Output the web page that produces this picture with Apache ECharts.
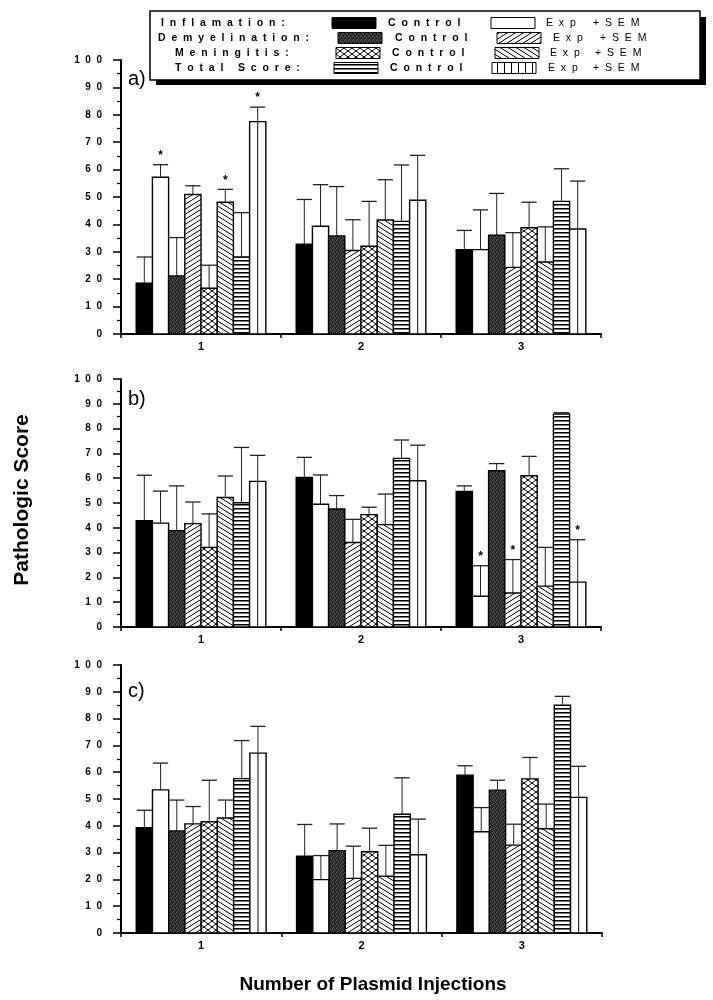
<!DOCTYPE html>
<html>
<head>
<meta charset="utf-8">
<script src="https://cdn.jsdelivr.net/npm/echarts@6/dist/echarts.min.js"></script>
<style>
  html, body { margin: 0; background: #fff; }
  #main { width: 713px; height: 1000px; }
</style>
</head>
<body>
<div id="main"></div>
<script>
// categories: number of plasmid injections
const injections = ['1', '2', '3'];
// bar order inside each group
const barNames = ['Inflamation Control', 'Inflamation Exp', 'Demyelination Control', 'Demyelination Exp',
  'Meningitis Control', 'Meningitis Exp', 'Total Score Control', 'Total Score Exp'];
const yTicks = [0, 10, 20, 30, 40, 50, 60, 70, 80, 90, 100];

// panel a) mean and SEM, one row per injection group
const meanA = [
  [18.5, 57.2, 21.2, 50.9, 16.7, 48.1, 28.1, 77.5],
  [32.8, 39.3, 35.8, 30.5, 32.0, 41.6, 41.1, 48.8],
  [30.8, 30.8, 36.1, 24.3, 38.8, 26.3, 48.4, 38.3]
];
const semA = [
  [9.6, 4.6, 14.0, 3.2, 8.4, 4.7, 16.2, 5.3],
  [16.3, 15.2, 18.0, 11.2, 16.4, 14.7, 20.6, 16.4],
  [7.0, 14.5, 15.2, 12.7, 9.3, 12.8, 11.9, 17.5]
];
const starsA = [[0, 1], [0, 5], [0, 7]];

// panel b)
const meanB = [
  [42.9, 41.9, 38.8, 41.7, 32.1, 52.2, 50.1, 58.7],
  [60.3, 49.5, 47.6, 34.1, 45.3, 41.3, 68.0, 59.0],
  [54.7, 12.4, 63.0, 13.7, 61.0, 16.5, 85.9, 18.1]
];
const semB = [
  [18.3, 12.9, 18.1, 8.7, 13.5, 8.7, 22.3, 10.5],
  [8.1, 11.8, 5.4, 9.3, 3.0, 12.3, 7.4, 14.3],
  [2.2, 12.3, 2.9, 13.5, 7.8, 15.6, 0.5, 17.1]
];
const starsB = [[2, 1], [2, 3], [2, 7]];

// panel c)
const meanC = [
  [39.3, 53.4, 38.1, 40.7, 41.5, 42.9, 57.6, 67.1],
  [28.7, 19.9, 30.7, 20.4, 30.3, 21.2, 44.3, 29.2],
  [58.9, 37.8, 53.3, 32.8, 57.5, 38.9, 85.0, 50.6]
];
const semC = [
  [6.5, 10.0, 11.5, 6.5, 15.5, 6.7, 14.2, 10.0],
  [11.8, 9.0, 10.0, 12.0, 8.8, 11.5, 13.6, 13.3],
  [3.5, 9.0, 3.7, 7.8, 8.0, 9.2, 3.3, 11.6]
];
const starsC = [];

const FONT = '"Liberation Sans", Arial, sans-serif';
const sp = s => s.split('').join('  ');

// fill patterns
function makePattern(w, h, draw) {
  const c = document.createElement('canvas');
  c.width = w; c.height = h;
  const ctx = c.getContext('2d');
  ctx.fillStyle = '#fff';
  ctx.fillRect(0, 0, w, h);
  ctx.strokeStyle = '#000';
  ctx.fillStyle = '#000';
  ctx.lineWidth = 1;
  draw(ctx, w, h);
  return { image: c, repeat: 'repeat' };
}
const stipple = makePattern(4, 4, (ctx) => {
  ctx.fillStyle = '#262626';
  ctx.fillRect(0, 0, 4, 4);
  ctx.fillStyle = '#6a6a6a';
  ctx.fillRect(0, 0, 1, 1);
  ctx.fillRect(2, 1, 1, 1);
  ctx.fillRect(1, 3, 1, 1);
  ctx.fillStyle = '#4a4a4a';
  ctx.fillRect(3, 2, 1, 1);
});
const slashUp = makePattern(8, 5, (ctx, w, h) => {
  ctx.beginPath();
  [-h, 0, h].forEach(d => { ctx.moveTo(0, h + d); ctx.lineTo(w, d); });
  ctx.stroke();
});
const slashDown = makePattern(8, 5, (ctx, w, h) => {
  ctx.beginPath();
  [-h, 0, h].forEach(d => { ctx.moveTo(0, d); ctx.lineTo(w, h + d); });
  ctx.stroke();
});
const crossHatch = makePattern(8, 6, (ctx, w, h) => {
  ctx.beginPath();
  [-h, 0, h].forEach(d => {
    ctx.moveTo(0, h + d); ctx.lineTo(w, d);
    ctx.moveTo(0, d); ctx.lineTo(w, h + d);
  });
  ctx.stroke();
});
const hLines = makePattern(4, 4, (ctx) => {
  ctx.fillRect(0, 0, 4, 1);
  ctx.fillStyle = '#777';
  ctx.fillRect(0, 1, 4, 1);
});
const vLines = makePattern(7, 4, (ctx) => {
  ctx.fillRect(0, 0, 1, 4);
});
const barFills = ['#000', '#fff', stipple, slashUp, crossHatch, slashDown, hLines, '#fff'];
const legendFills = ['#000', '#fff', stipple, slashUp, crossHatch, slashDown, hLines, vLines];

// one bar + its SEM whisker, placed through the axes
function renderBar(params, api) {
  const g = api.value(0), k = api.value(1), m = api.value(2), s = api.value(3), star = api.value(4);
  const band = api.size([1, 0])[0];
  const groupW = band * 0.81;
  const bw = groupW / 8;
  const base = api.coord([g, 0]);
  const x = base[0] - groupW / 2 + k * bw;
  const cx = x + bw / 2;
  const yTop = api.coord([g, m])[1];
  const yErr = api.coord([g, m + s])[1];
  const kids = [
    { type: 'rect', shape: { x: x, y: yTop, width: bw, height: base[1] - yTop },
      style: { fill: barFills[k], stroke: '#000', lineWidth: 1.4 } },
    { type: 'line', shape: { x1: cx, y1: yTop, x2: cx, y2: yErr }, style: { stroke: '#222', lineWidth: 1 } },
    { type: 'line', shape: { x1: x + 0.5, y1: yErr, x2: x + bw - 0.5, y2: yErr }, style: { stroke: '#222', lineWidth: 1.3 } }
  ];
  if (k === 7) {
    kids.push({ type: 'line', shape: { x1: cx, y1: base[1], x2: cx, y2: yTop }, style: { stroke: '#000', lineWidth: 1 } });
  }
  if (star) {
    kids.push({ type: 'text', style: { text: '*', x: cx, y: yErr - 3, align: 'center', verticalAlign: 'bottom',
      font: 'bold 12px ' + FONT, fill: '#000' } });
  }
  return { type: 'group', children: kids };
}

function panelSeries(i, means, sems, stars) {
  const data = [];
  means.forEach((row, g) => row.forEach((m, k) => {
    const star = stars.some(p => p[0] === g && p[1] === k) ? 1 : 0;
    data.push([g, k, m, sems[g][k], star]);
  }));
  return {
    type: 'custom', xAxisIndex: i, yAxisIndex: i, coordinateSystem: 'cartesian2d',
    renderItem: renderBar, encode: { x: 0, y: 2 }, data: data, clip: false
  };
}

const grids = [
  { left: 121, top: 60, width: 480, height: 274 },
  { left: 121, top: 379, width: 480, height: 248 },
  { left: 121, top: 665, width: 481, height: 268 }
];

const xAxes = grids.map((g, i) => ({
  type: 'category', gridIndex: i, data: injections,
  axisLine: { lineStyle: { color: '#000', width: 2 } },
  axisTick: { show: true, length: 4, lineStyle: { color: '#000', width: 1.5 } },
  axisLabel: { color: '#000', fontWeight: 'bold', fontSize: 11, fontFamily: FONT, margin: 7 }
}));
const yAxes = grids.map((g, i) => ({
  type: 'value', gridIndex: i, min: yTicks[0], max: yTicks[yTicks.length - 1], interval: 10,
  splitLine: { show: false },
  axisLine: { show: true, lineStyle: { color: '#000', width: 2 } },
  axisTick: { show: true, length: 8, lineStyle: { color: '#000', width: 1.5 } },
  minorTick: { show: true, splitNumber: 2, length: 4, lineStyle: { color: '#000', width: 1.2 } },
  axisLabel: { color: '#000', fontWeight: 'bold', fontSize: 10, fontFamily: FONT, margin: 19,
    formatter: v => sp(String(v)) }
}));

// legend box drawn as graphics
const legendRows = [
  { label: 'Inflamation:', lx: 161, sc: 332, tc: 388, se: 491, te: 546, tp: 593, y: 23 },
  { label: 'Demyelination:', lx: 158, sc: 338, tc: 395, se: 497, te: 553, tp: 600, y: 38 },
  { label: 'Meningitis:', lx: 175, sc: 336, tc: 392, se: 495, te: 550, tp: 595, y: 53 },
  { label: 'Total Score:', lx: 175, sc: 334, tc: 390, se: 492, te: 548, tp: 593, y: 68 }
];
const txt = (text, x, y, extra) => ({
  type: 'text', x: x, y: y,
  style: Object.assign({ text: text, font: 'bold 10.5px ' + FONT, fill: '#000', verticalAlign: 'middle' }, extra || {})
});
const legendEls = [
  { type: 'rect', shape: { x: 156, y: 17, width: 550, height: 68 }, style: { fill: '#000' } },
  { type: 'rect', shape: { x: 150, y: 11, width: 550, height: 69 }, style: { fill: '#fff', stroke: '#000', lineWidth: 1.5 } }
];
legendRows.forEach((r, i) => {
  legendEls.push(txt(sp(r.label), r.lx, r.y));
  legendEls.push({ type: 'rect', shape: { x: r.sc, y: r.y - 5.5, width: 44, height: 11 },
    style: { fill: legendFills[2 * i], stroke: '#000', lineWidth: 1 } });
  legendEls.push(txt(sp('Control'), r.tc, r.y));
  legendEls.push({ type: 'rect', shape: { x: r.se, y: r.y - 5.5, width: 44, height: 11 },
    style: { fill: legendFills[2 * i + 1], stroke: '#000', lineWidth: 1 } });
  legendEls.push(txt(sp('Exp'), r.te, r.y, { font: '10.5px ' + FONT }));
  legendEls.push(txt(sp('+SEM'), r.tp, r.y, { font: '10.5px ' + FONT }));
});

const graphics = legendEls.concat([
  txt('a)', 128, 79, { font: '20px ' + FONT }),
  txt('b)', 128, 399, { font: '20px ' + FONT }),
  txt('c)', 128, 691, { font: '20px ' + FONT }),
  { type: 'text', x: 22, y: 500, rotation: Math.PI / 2,
    style: { text: 'Pathologic Score', font: 'bold 21px ' + FONT, fill: '#000', align: 'center', verticalAlign: 'middle' } },
  { type: 'text', x: 373, y: 985,
    style: { text: 'Number of Plasmid Injections', font: 'bold 19px ' + FONT, fill: '#000', align: 'center', verticalAlign: 'middle' } }
]);

const chart = echarts.init(document.getElementById('main'));
chart.setOption({
  animation: false,
  backgroundColor: '#fff',
  grid: grids,
  xAxis: xAxes,
  yAxis: yAxes,
  graphic: graphics,
  series: [
    panelSeries(0, meanA, semA, starsA),
    panelSeries(1, meanB, semB, starsB),
    panelSeries(2, meanC, semC, starsC)
  ]
});
window.addEventListener('resize', () => {
  chart.resize();
});
</script>
</body>
</html>
